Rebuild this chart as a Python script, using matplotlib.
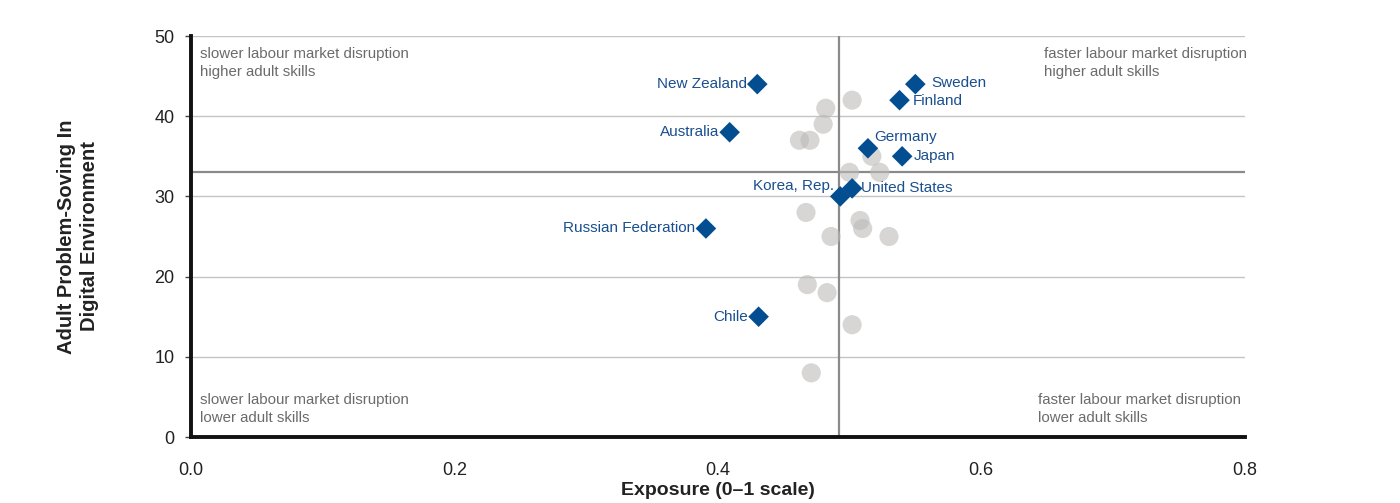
import matplotlib
matplotlib.use("Agg")
import matplotlib.pyplot as plt

# Highlighted countries
countries = ["New Zealand", "Sweden", "Finland", "Australia", "Germany", "Japan",
             "United States", "Korea, Rep.", "Russian Federation", "Chile"]
exposure = [0.430, 0.550, 0.538, 0.409, 0.514, 0.540, 0.502, 0.493, 0.391, 0.431]
skills = [44, 44, 42, 38, 36, 35, 31, 30, 26, 15]

# Other countries (grey)
other_exposure = [0.502, 0.482, 0.480, 0.462, 0.470, 0.517, 0.500, 0.523, 0.467,
                  0.508, 0.510, 0.486, 0.530, 0.468, 0.483, 0.502, 0.471]
other_skills = [42, 41, 39, 37, 37, 35, 33, 33, 28, 27, 26, 25, 25, 19, 18, 14, 8]

x_ticks = [0.0, 0.2, 0.4, 0.6, 0.8]
x_ticklabels = ["0.0", "0.2", "0.4", "0.6", "0.8"]
y_ticks = [0, 10, 20, 30, 40, 50]
x_ref = 0.4924
y_ref = 33

plt.rcParams['font.family'] = ['Liberation Sans', 'DejaVu Sans']

fig = plt.figure(figsize=(14, 5.03), dpi=100)
ax = fig.add_axes([0.1364, 0.1312, 0.889 - 0.1364, 0.9284 - 0.1312])

ax.set_xlim(0, 0.8)
ax.set_ylim(0, 50)

for yt in y_ticks[1:]:
    ax.axhline(yt, color="#c4c4c4", lw=1.0, zorder=1)
ax.axvline(x_ref, color="#8a8a8a", lw=1.6, zorder=1)
ax.axhline(y_ref, color="#8a8a8a", lw=1.6, zorder=1)

ax.scatter(other_exposure, other_skills, s=190, color="#bdbbb8", alpha=0.6,
           edgecolors="none", zorder=2)
ax.scatter(exposure, skills, s=110, marker="D", color="#034e91",
           edgecolors="none", zorder=3)

blue = "#1a4f8f"
lab_fs = 11
offsets = {
    "New Zealand": (-0.008, 0, "right", "center"),
    "Sweden": (0.012, 0.2, "left", "center"),
    "Finland": (0.010, -0.1, "left", "center"),
    "Australia": (-0.008, 0, "right", "center"),
    "Germany": (0.005, 1.4, "left", "center"),
    "Japan": (0.009, 0, "left", "center"),
    "United States": (0.007, 0.1, "left", "center"),
    "Korea, Rep.": (-0.005, 1.3, "right", "center"),
    "Russian Federation": (-0.008, 0, "right", "center"),
    "Chile": (-0.008, 0, "right", "center"),
}
for c, xv, yv in zip(countries, exposure, skills):
    dx, dy, ha, va = offsets[c]
    ax.text(xv + dx, yv + dy, c, color=blue, fontsize=lab_fs, ha=ha, va=va, zorder=4)

qcol = "#6b6b6b"
qfs = 10.8
ls = 1.38
ax.text(0.0068, 48.6, "slower labour market disruption\nhigher adult skills",
        color=qcol, fontsize=qfs, ha="left", va="top", linespacing=ls)
ax.text(0.648, 48.6, "faster labour market disruption\nhigher adult skills",
        color=qcol, fontsize=qfs, ha="left", va="top", linespacing=ls)
ax.text(0.0068, 5.5, "slower labour market disruption\nlower adult skills",
        color=qcol, fontsize=qfs, ha="left", va="top", linespacing=ls)
ax.text(0.643, 5.5, "faster labour market disruption\nlower adult skills",
        color=qcol, fontsize=qfs, ha="left", va="top", linespacing=ls)

ax.set_xticks(x_ticks)
ax.set_xticklabels(x_ticklabels)
ax.set_yticks(y_ticks)

for s in ["top", "right"]:
    ax.spines[s].set_visible(False)
ax.spines["left"].set_linewidth(2.8)
ax.spines["bottom"].set_linewidth(2.8)
ax.spines["left"].set_color("#111111")
ax.spines["bottom"].set_color("#111111")

ax.tick_params(axis="x", length=0, pad=18, labelsize=13, colors="#222222")
ax.tick_params(axis="y", length=4, width=1, color="#444444", pad=8, labelsize=13,
               labelcolor="#222222")

ax.set_xlabel("Exposure (0\u20131 scale)", fontsize=14, fontweight="bold",
              color="#222222", labelpad=2)
ax.set_ylabel("Adult Problem-Soving In\nDigital Environment", fontsize=14.5,
              fontweight="bold", color="#222222", labelpad=40, linespacing=1.25)

fig.savefig("out.png", dpi=100)
